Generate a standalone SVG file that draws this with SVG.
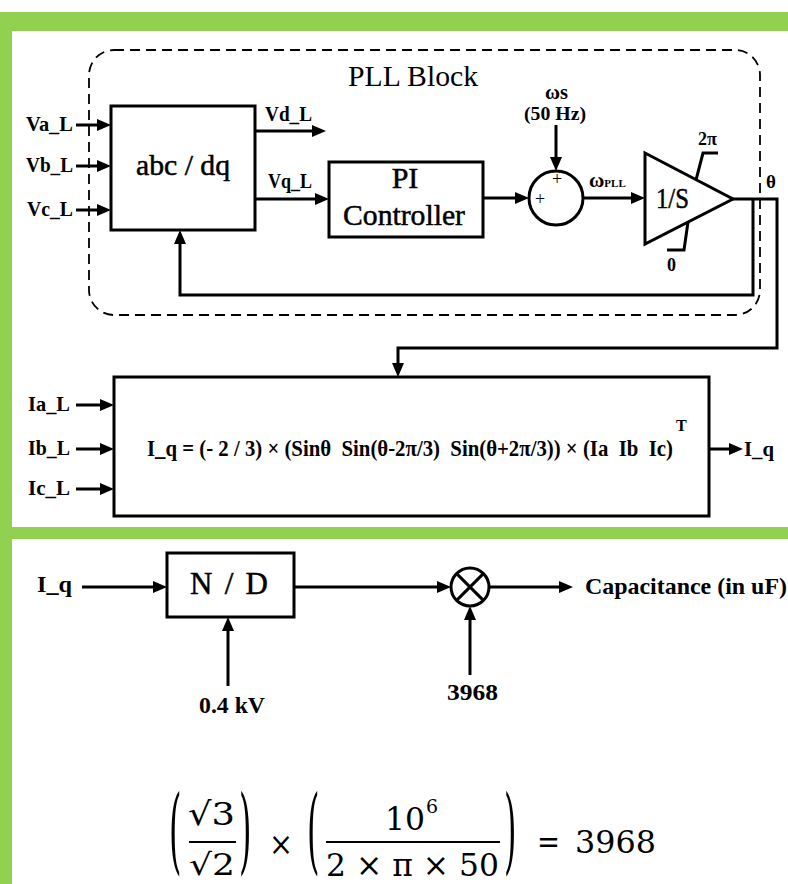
<svg xmlns="http://www.w3.org/2000/svg" width="788" height="884" viewBox="0 0 788 884">
<style>
.frame{fill:#92d050}
.box{fill:#fff;stroke:#000;stroke-width:3}
.ln{fill:none;stroke:#000;stroke-width:3}
.arr{fill:none;stroke:#000;stroke-width:3;marker-end:url(#ah)}
.lbl{font-family:"Liberation Serif","Times New Roman",serif;font-weight:bold;fill:#000}
.big{font-family:"Liberation Serif","Times New Roman",serif;fill:#000}
.heavy{stroke:#000;stroke-width:0.5}
.eq{font-family:"DejaVu Serif",serif;fill:#000}
</style>
<defs>
<marker id="ah" viewBox="0 0 14 12" refX="2" refY="6" markerWidth="14" markerHeight="12" markerUnits="userSpaceOnUse" orient="auto">
<path d="M0,0 L14,6 L0,12 z" fill="#000"/>
</marker>
</defs>
<rect width="788" height="884" fill="#fff"/>
<g id="frame">
<rect class="frame" x="0" y="12" width="788" height="19"/>
<rect class="frame" x="0" y="12" width="12" height="872"/>
<rect class="frame" x="0" y="527" width="788" height="12"/>
</g>
<g id="pll-block">
<rect x="89" y="50" width="671" height="265" rx="25" ry="25" fill="none" stroke="#000" stroke-width="1.8" stroke-dasharray="10 6"/>
<text class="big" x="348" y="86" font-size="30" textLength="130" lengthAdjust="spacingAndGlyphs">PLL Block</text>
</g>
<g id="connectors">
<line class="arr" x1="76" y1="125" x2="99" y2="125"/>
<line class="arr" x1="76" y1="166" x2="99" y2="166"/>
<line class="arr" x1="76" y1="210" x2="99" y2="210"/>
<line class="arr" x1="255" y1="131" x2="314" y2="131"/>
<line class="arr" x1="255" y1="199" x2="317" y2="199"/>
<line class="arr" x1="483" y1="198" x2="517" y2="198"/>
<line class="arr" x1="556" y1="125" x2="556" y2="159"/>
<line class="arr" x1="583" y1="198" x2="633" y2="198"/>
<polyline class="arr" points="733,199 777,199 777,348 398,348 398,365"/>
<polyline class="arr" points="753,199 753,295 180,295 180,242"/>
<line class="arr" x1="76" y1="405" x2="102" y2="405"/>
<line class="arr" x1="76" y1="449" x2="102" y2="449"/>
<line class="arr" x1="76" y1="489" x2="102" y2="489"/>
<line class="arr" x1="709" y1="449" x2="731" y2="449"/>
<line class="arr" x1="82" y1="587" x2="155" y2="587"/>
<line class="arr" x1="294" y1="587" x2="439" y2="587"/>
<line class="arr" x1="489" y1="587" x2="561" y2="587"/>
<line class="arr" x1="228" y1="686" x2="228" y2="629"/>
<line class="arr" x1="470" y1="675" x2="470" y2="618"/>
</g>
<g id="labels">
<text class="lbl" x="26" y="131" font-size="22" textLength="47" lengthAdjust="spacingAndGlyphs">Va_L</text>
<text class="lbl" x="26" y="172" font-size="22" textLength="47" lengthAdjust="spacingAndGlyphs">Vb_L</text>
<text class="lbl" x="27" y="216" font-size="22" textLength="46" lengthAdjust="spacingAndGlyphs">Vc_L</text>
<text class="lbl" x="265" y="121" font-size="22" textLength="47" lengthAdjust="spacingAndGlyphs">Vd_L</text>
<text class="lbl" x="268" y="188" font-size="22" textLength="44" lengthAdjust="spacingAndGlyphs">Vq_L</text>
<text class="lbl" x="545" y="99" font-size="20" textLength="23" lengthAdjust="spacingAndGlyphs">ωs</text>
<text class="lbl" x="524" y="120" font-size="19" textLength="62" lengthAdjust="spacingAndGlyphs">(50 Hz)</text>
<text class="lbl" x="589" y="187" font-size="21">ω<tspan font-size="11">PLL</tspan></text>
<text class="lbl" x="766" y="188" font-size="19">θ</text>
<text class="lbl" x="698" y="145" font-size="18">2π</text>
<text class="lbl" x="667" y="271" font-size="18">0</text>
<text class="lbl" x="28" y="411" font-size="22" textLength="42" lengthAdjust="spacingAndGlyphs">Ia_L</text>
<text class="lbl" x="28" y="455" font-size="22" textLength="42" lengthAdjust="spacingAndGlyphs">Ib_L</text>
<text class="lbl" x="28" y="495" font-size="22" textLength="42" lengthAdjust="spacingAndGlyphs">Ic_L</text>
<text class="lbl" x="744" y="456" font-size="22" textLength="30" lengthAdjust="spacingAndGlyphs">I_q</text>
<text class="lbl" x="37" y="592" font-size="24" textLength="35" lengthAdjust="spacingAndGlyphs">I_q</text>
<text class="lbl" x="199" y="713" font-size="23" textLength="66" lengthAdjust="spacingAndGlyphs">0.4 kV</text>
<text class="lbl" x="447" y="700" font-size="23" textLength="51" lengthAdjust="spacingAndGlyphs">3968</text>
<text class="lbl" x="585" y="594" font-size="23" textLength="202" lengthAdjust="spacingAndGlyphs">Capacitance (in uF)</text>
</g>
<g id="abc-dq">
<rect class="box" x="111" y="106" width="144" height="124"/>
<text class="big heavy" x="136" y="175" font-size="30" textLength="94" lengthAdjust="spacingAndGlyphs">abc / dq</text>
</g>
<g id="pi-controller">
<rect class="box" x="329" y="162" width="154" height="75"/>
<text class="big heavy" x="405" y="188" text-anchor="middle" font-size="30">PI</text>
<text class="big heavy" x="343" y="225" font-size="30" textLength="122" lengthAdjust="spacingAndGlyphs">Controller</text>
</g>
<g id="sum">
<circle class="box" cx="556" cy="198" r="27"/>
<text class="big" x="557" y="185" text-anchor="middle" font-size="18">+</text>
<text class="big" x="540" y="205" text-anchor="middle" font-size="18">+</text>
</g>
<g id="integrator">
<polygon class="box" points="645,153 733,199 645,244"/>
<text class="big heavy" x="656" y="208" font-size="29" textLength="33" lengthAdjust="spacingAndGlyphs">1/S</text>
<polyline class="ln" points="696,180 703,153 718,153"/>
<polyline class="ln" points="688,222 684,250 667,250"/>
</g>
<g id="iq-calc">
<rect class="box" x="114" y="377" width="595" height="139"/>
<text class="lbl" x="147" y="456" font-size="23" textLength="526" lengthAdjust="spacingAndGlyphs" xml:space="preserve">I_q = (- 2 / 3) × (Sinθ  Sin(θ-2π/3)  Sin(θ+2π/3)) × (Ia  Ib  Ic)</text>
<text class="lbl" x="676" y="431" font-size="16">T</text>
</g>
<g id="nd">
<rect class="box" x="167" y="553" width="127" height="64"/>
<text class="big heavy" x="190" y="594" font-size="31" textLength="78" lengthAdjust="spacing">N / D</text>
</g>
<g id="multiply">
<circle class="box" cx="470" cy="587" r="19"/>
<line class="ln" x1="456.6" y1="573.6" x2="483.4" y2="600.4" stroke-width="2.5"/>
<line class="ln" x1="483.4" y1="573.6" x2="456.6" y2="600.4" stroke-width="2.5"/>
</g>
<g id="equation">
<text class="eq" font-size="32" transform="translate(169,862) scale(1,2.95)">(</text>
<text class="eq" x="188" y="825" font-size="32" textLength="47" lengthAdjust="spacingAndGlyphs">√3</text>
<line x1="189" y1="842" x2="236" y2="842" stroke="#000" stroke-width="1.8"/>
<text class="eq" x="189" y="875" font-size="30" textLength="46" lengthAdjust="spacingAndGlyphs">√2</text>
<text class="eq" font-size="32" transform="translate(239,862) scale(1,2.95)">)</text>
<text class="eq" x="269" y="855" font-size="32" textLength="24" lengthAdjust="spacingAndGlyphs">×</text>
<text class="eq" font-size="32" transform="translate(307,862) scale(1,2.95)">(</text>
<text class="eq" x="385" y="830" font-size="32" textLength="40" lengthAdjust="spacingAndGlyphs">10</text>
<text class="eq" x="426" y="813" font-size="19">6</text>
<line x1="326" y1="842" x2="500" y2="842" stroke="#000" stroke-width="1.8"/>
<text class="eq" x="326" y="876" font-size="31" textLength="173" lengthAdjust="spacingAndGlyphs">2 × π × 50</text>
<text class="eq" font-size="32" transform="translate(504,862) scale(1,2.95)">)</text>
<text class="eq" x="537" y="853" font-size="32" textLength="23" lengthAdjust="spacingAndGlyphs">=</text>
<text class="eq" x="575" y="853" font-size="32" textLength="81" lengthAdjust="spacingAndGlyphs">3968</text>
</g>
</svg>
